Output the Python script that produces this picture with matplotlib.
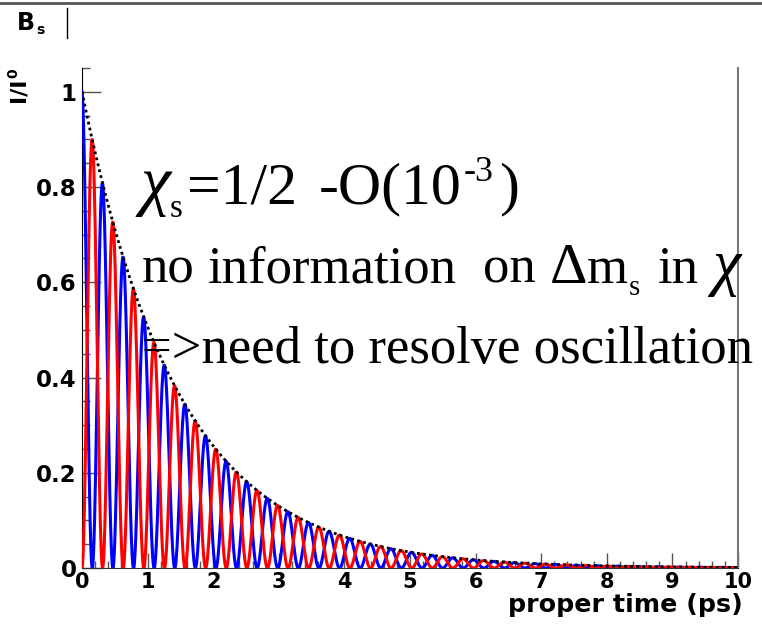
import numpy as np
import matplotlib
matplotlib.use("Agg")
import matplotlib.pyplot as plt
from matplotlib.lines import Line2D
from matplotlib.ticker import MultipleLocator
from matplotlib.font_manager import FontProperties

# Bs decay parameters
tau = 1.47          # lifetime (ps)
delta_m = 20.0      # oscillation frequency (ps^-1)
t_max = 10.0
x_ticks = [0, 1, 2, 3, 4, 5, 6, 7, 8, 9, 10]
y_ticks = [0, 0.2, 0.4, 0.6, 0.8, 1.0]
y_tick_labels = ["0", "0.2", "0.4", "0.6", "0.8", "1"]

t = np.linspace(0, t_max, 6000)
envelope = np.exp(-t / tau)
unmixed = envelope * np.cos(delta_m * t / 2) ** 2
mixed = envelope * np.sin(delta_m * t / 2) ** 2

W, H = 762, 624
fig = plt.figure(figsize=(W / 100, H / 100), dpi=100)
ax = fig.add_axes([82 / W, 1 - 568 / H, (738 - 82) / W, (568 - 68) / H])

ax.plot(t, unmixed, color="#0000ff", lw=2.2, zorder=3)
ax.plot(t, mixed, color="#ff0000", lw=2.2, zorder=4)
ax.plot(t, envelope, color="black", lw=2.0, ls=(0, (1, 1.2)), zorder=5)

ax.set_xlim(0, t_max)
ax.set_ylim(0, 1.05)
ax.set_xticks(x_ticks)
ax.set_xticklabels([str(v) for v in x_ticks])
ax.set_yticks(y_ticks)
ax.set_yticklabels(y_tick_labels)
ax.xaxis.set_minor_locator(MultipleLocator(0.2))
ax.yaxis.set_minor_locator(MultipleLocator(0.05))

bold_sans = "DejaVu Sans"
for lab in ax.get_xticklabels():
    lab.set_fontproperties(FontProperties(family=bold_sans, weight="bold", size=15))
for lab in ax.get_yticklabels():
    lab.set_fontproperties(FontProperties(family=bold_sans, weight="bold", size=16.5))

ax.tick_params(axis="both", which="both", direction="in", colors="#555555",
               labelcolor="black")
ax.tick_params(axis="x", which="major", length=11, width=1, pad=3)
ax.tick_params(axis="x", which="minor", length=5, width=1)
ax.tick_params(axis="y", which="major", length=14, width=1, pad=4)
ax.tick_params(axis="y", which="minor", length=6, width=1)

ax.spines["top"].set_visible(False)
ax.spines["right"].set_color("#777777")
ax.spines["right"].set_linewidth(1.5)
ax.spines["left"].set_color("black")
ax.spines["bottom"].set_color("#333333")

renderer = fig.canvas.get_renderer()


def draw_runs(x_px, y_px, runs, family, weight="normal", rotation=0):
    """Write a sequence of text runs left to right (or bottom to top when
    rotated); each run is (text, size, baseline shift in px[, style]) or a
    gap in px."""
    pos = x_px if rotation == 0 else y_px
    for run in runs:
        if isinstance(run, (int, float)):
            pos += run if rotation == 0 else -run
            continue
        txt, size, shift = run[:3]
        style = run[3] if len(run) > 3 else "normal"
        if rotation == 0:
            xy = (pos / W, 1 - (y_px - shift) / H)
            ha, va = "left", "baseline"
        else:
            xy = ((x_px - shift) / W, 1 - pos / H)
            ha, va = "left", "bottom"
        tx = fig.text(*xy, txt, family=family, weight=weight, style=style,
                      fontsize=size, ha=ha, va=va, rotation=rotation,
                      rotation_mode="anchor", zorder=6)
        ext = tx.get_window_extent(renderer)
        pos += ext.width if rotation == 0 else -ext.height


serif = "Liberation Serif"

# first statement
S1 = 43
draw_runs(140, 203, [("χ", S1 + 6, 0, "italic"), 0, ("s", S1 * 0.55, -14), 4,
                     ("=1/2", S1, 0), 22, ("-O(10", S1, 0), 2,
                     ("-3", S1 * 0.6, 22), 6, (")", S1, 0)], serif)

# second statement
S2 = 38
sp2 = 0.25 * S2 * 100 / 72
draw_runs(142, 283, [("no", S2, 0), sp2, ("information", S2, 0), 2 * sp2,
                     ("on", S2, 0), sp2, ("Δ", S2 + 4, 0), ("m", S2, 0), 1,
                     ("s", S2 * 0.55, -12), sp2 + 4, ("in", S2, 0), sp2,
                     ("χ", S2 + 8, 0, "italic")], serif)

# third statement
fig.text(142 / W, 1 - 363 / H, "=>need to resolve oscillation",
         fontsize=38, family=serif, va="baseline", ha="left", zorder=6)

# axis titles
fig.text(743 / W, 1 - 612 / H, "proper time (ps)", family=bold_sans,
         weight="bold", fontsize=18.3, ha="right", va="baseline")
draw_runs(28, 102, [("I/I", 16, 0), ("0", 10, 8)], bold_sans, weight="bold",
          rotation=90)

# histogram title box
draw_runs(17, 30, [("B", 17, 0), 1, ("s", 10, -4)], bold_sans, weight="bold")
fig.add_artist(Line2D([67 / W, 67 / W], [1 - 8 / H, 1 - 38 / H],
                      transform=fig.transFigure, color="black", lw=1))
fig.add_artist(Line2D([0, 1], [1 - 3 / H, 1 - 3 / H],
                      transform=fig.transFigure, color="#555555", lw=2))

fig.savefig("out.png", dpi=100)
